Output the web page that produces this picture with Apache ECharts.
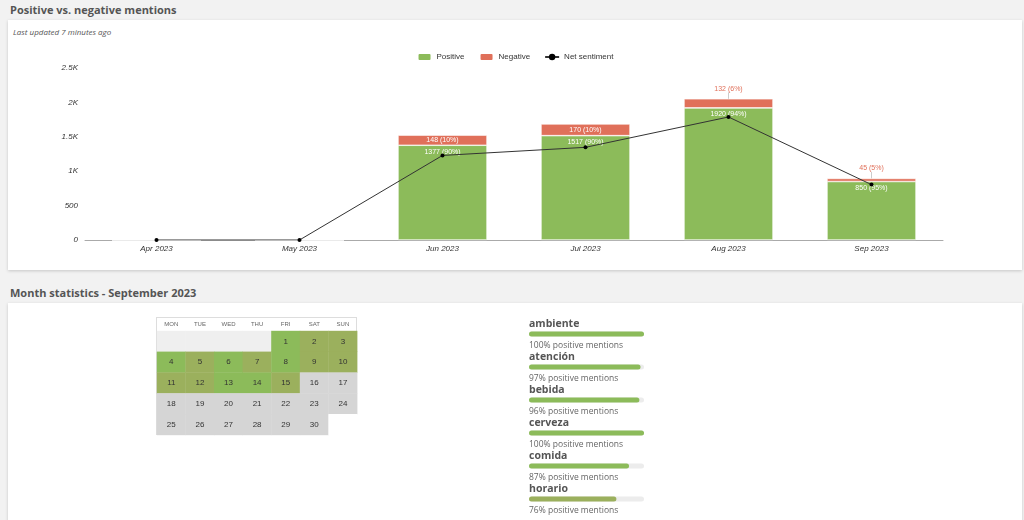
<!DOCTYPE html>
<html>
<head>
<meta charset="utf-8">
<script src="https://cdn.jsdelivr.net/npm/echarts@6/dist/echarts.min.js"></script>
<style>
  html, body { margin: 0; padding: 0; }
  body { width: 1024px; height: 520px; overflow: hidden; background: #f2f2f2; position: relative; font-family: 'Open Sans', sans-serif; }
  .title { position: absolute; left: 10px; font-size: 11px; font-weight: bold; color: #555; }
  .panel { position: absolute; left: 8px; width: 1014px; background: #fff; box-shadow: 0 1px 3px rgba(0,0,0,0.18); }
  .updated { position: absolute; left: 13px; top: 26px; font-size: 8px; font-style: italic; color: #555; }
  #calFrame { position: absolute; left: 156px; top: 317px; width: 201px; height: 118px; border: 1px solid #ddd; box-sizing: border-box; }
</style>
</head>
<body>
<div class="title" style="top:2px">Positive vs. negative mentions</div>
<div class="panel" style="top:20px;height:250px"></div>
<div class="updated">Last updated 7 minutes ago</div>
<div id="mentions" style="position:absolute;left:8px;top:20px;width:1014px;height:250px"></div>

<div class="title" style="top:285px">Month statistics - September 2023</div>
<div class="panel" style="top:303px;height:240px"></div>
<div id="calFrame"></div>
<div id="calendar" style="position:absolute;left:150px;top:310px;width:220px;height:135px"></div>
<div id="topics" style="position:absolute;left:520px;top:310px;width:170px;height:230px"></div>

<script>
// monthly mentions
const months = ['Apr 2023', 'May 2023', 'Jun 2023', 'Jul 2023', 'Aug 2023', 'Sep 2023'];
const positive = [0, 0, 1377, 1517, 1920, 850];
const negative = [0, 0, 148, 170, 132, 45];
const netSentiment = [0, 0, 1229, 1347, 1788, 805];
const yTicks = ['0', '500', '1K', '1.5K', '2K', '2.5K'];

// September 2023 calendar: 2 = mostly positive, 1 = mixed, 0 = no mentions yet
const calDays = ['2023-09-01', '2023-09-02', '2023-09-03', '2023-09-04', '2023-09-05', '2023-09-06', '2023-09-07', '2023-09-08', '2023-09-09', '2023-09-10',
  '2023-09-11', '2023-09-12', '2023-09-13', '2023-09-14', '2023-09-15', '2023-09-16', '2023-09-17', '2023-09-18', '2023-09-19', '2023-09-20',
  '2023-09-21', '2023-09-22', '2023-09-23', '2023-09-24', '2023-09-25', '2023-09-26', '2023-09-27', '2023-09-28', '2023-09-29', '2023-09-30'];
const calTone = [2, 1, 1, 2, 1, 2, 1, 2, 1, 1, 1, 1, 2, 2, 1, 0, 0, 0, 0, 0, 0, 0, 0, 0, 0, 0, 0, 0, 0, 0];
const weekDays = ['SUN', 'MON', 'TUE', 'WED', 'THU', 'FRI', 'SAT'];

// topics
const topics = ['ambiente', 'atención', 'bebida', 'cerveza', 'comida', 'horario'];
const topicPositive = [100, 97, 96, 100, 87, 76];

const GREEN = '#8cbb5a';
const RED = '#e0705a';
const OLIVE = '#9bb05d';

const total = positive.map((p, i) => p + negative[i]);
const pct = (v, i) => Math.round(v / total[i] * 100);

const mentions = echarts.init(document.getElementById('mentions'));
mentions.setOption({
  animation: false,
  textStyle: { fontFamily: 'Liberation Sans, Arial, sans-serif' },
  legend: {
    top: 27,
    left: 'center',
    itemWidth: 14,
    itemHeight: 8,
    itemGap: 14,
    textStyle: { fontSize: 8, color: '#333' },
    data: ['Positive', 'Negative', 'Net sentiment']
  },
  grid: { left: 77, right: 79, top: 48, bottom: 30 },
  xAxis: {
    type: 'category',
    data: months,
    axisLine: { lineStyle: { color: '#aaa' } },
    axisTick: { show: false },
    axisLabel: { fontSize: 8, fontStyle: 'italic', color: '#333', margin: 5 }
  },
  yAxis: {
    type: 'value',
    min: 0,
    max: 2500,
    interval: 500,
    splitLine: { show: false },
    axisLine: { show: false },
    axisTick: { show: false },
    axisLabel: {
      fontSize: 8, fontStyle: 'italic', color: '#333', margin: 7,
      formatter: (v) => yTicks[v / 500]
    }
  },
  series: [
    {
      name: 'Positive',
      type: 'bar',
      stack: 'm',
      barWidth: 89,
      itemStyle: { color: GREEN, borderColor: '#fff', borderWidth: 0.6 },
      label: {
        show: true, position: 'insideTop', distance: 3, color: '#fff', fontSize: 7,
        formatter: (p) => p.value ? p.value + ' (' + pct(p.value, p.dataIndex) + '%)' : ''
      },
      data: positive
    },
    {
      name: 'Negative',
      type: 'bar',
      stack: 'm',
      barWidth: 89,
      itemStyle: { color: RED, borderColor: '#fff', borderWidth: 0.6 },
      label: {
        show: true, position: 'inside', color: '#fff', fontSize: 7,
        formatter: (p) => p.value ? p.value + ' (' + pct(p.value, p.dataIndex) + '%)' : ''
      },
      labelLine: { show: true, lineStyle: { color: '#ccc', width: 1 } },
      labelLayout: (params) => {
        const i = params.dataIndex;
        if (negative[i] / total[i] < 0.08) {
          return { dy: -(params.rect.height / 2 + 10) };
        }
        return {};
      },
      data: negative.map((v, i) => (total[i] && v / total[i] < 0.08)
        ? { value: v, label: { color: RED } } : v)
    },
    {
      name: 'Net sentiment',
      type: 'line',
      z: 5,
      symbol: 'circle',
      symbolSize: 4,
      itemStyle: { color: '#000' },
      lineStyle: { color: '#333', width: 1 },
      data: netSentiment
    }
  ]
});

const cal = echarts.init(document.getElementById('calendar'));
const pad = ['2023-08-28', '2023-08-29', '2023-08-30', '2023-08-31'];
const cellW = 28.6, cellH = 20.8;
cal.setOption({
  animation: false,
  visualMap: {
    show: false,
    type: 'piecewise',
    dimension: 1,
    pieces: [
      { value: -2, color: '#efefef' },
      { value: -1, color: '#ffffff' },
      { value: 0, color: '#d5d5d5' },
      { value: 1, color: OLIVE },
      { value: 2, color: GREEN }
    ]
  },
  calendar: {
    orient: 'vertical',
    left: 7,
    top: 21,
    cellSize: [cellW, cellH],
    range: ['2023-08-28', '2023-10-01'],
    splitLine: { show: false },
    itemStyle: { color: '#fff', borderWidth: 0 },
    dayLabel: {
      firstDay: 1, position: 'start', nameMap: weekDays, margin: 4,
      fontSize: 6, color: '#666', fontFamily: 'Liberation Sans, Arial, sans-serif'
    },
    monthLabel: { show: false },
    yearLabel: { show: false }
  },
  series: [{
    type: 'scatter',
    coordinateSystem: 'calendar',
    symbol: 'rect',
    symbolSize: [cellW + 0.4, cellH + 0.4],
    itemStyle: { opacity: 1 },
    label: {
      show: true, position: 'inside', fontSize: 8, color: '#333', fontFamily: 'Liberation Sans, Arial, sans-serif',
      formatter: (p) => p.value[1] >= 0 ? String(+p.value[0].slice(8)) : ''
    },
    data: pad.map(d => [d, -2])
      .concat(calDays.map((d, i) => [d, calTone[i]]))
      .concat([['2023-10-01', -1]])
  }]
});

const topicChart = echarts.init(document.getElementById('topics'));
topicChart.setOption({
  animation: false,
  textStyle: { fontFamily: 'Open Sans, sans-serif' },
  grid: { left: 9, top: 7.5, width: 115, height: 198 },
  xAxis: { type: 'value', min: 0, max: 100, show: false },
  yAxis: { type: 'category', data: topics, inverse: true, show: false },
  series: [
    {
      type: 'bar',
      barWidth: 5,
      barGap: '-100%',
      silent: true,
      itemStyle: { color: '#ececec', borderRadius: 3 },
      label: {
        show: true, position: [0, -13], color: '#555', fontSize: 10.5, fontWeight: 'bold',
        formatter: (p) => p.name
      },
      data: topics.map(() => 100)
    },
    {
      type: 'bar',
      barWidth: 5,
      barGap: '-100%',
      itemStyle: {
        borderRadius: 3,
        color: (p) => p.value >= 80 ? GREEN : OLIVE
      },
      label: {
        show: true, position: [0, 10], color: '#666', fontSize: 8.5,
        formatter: (p) => p.value + '% positive mentions'
      },
      data: topicPositive
    }
  ]
});
</script>
</body>
</html>
